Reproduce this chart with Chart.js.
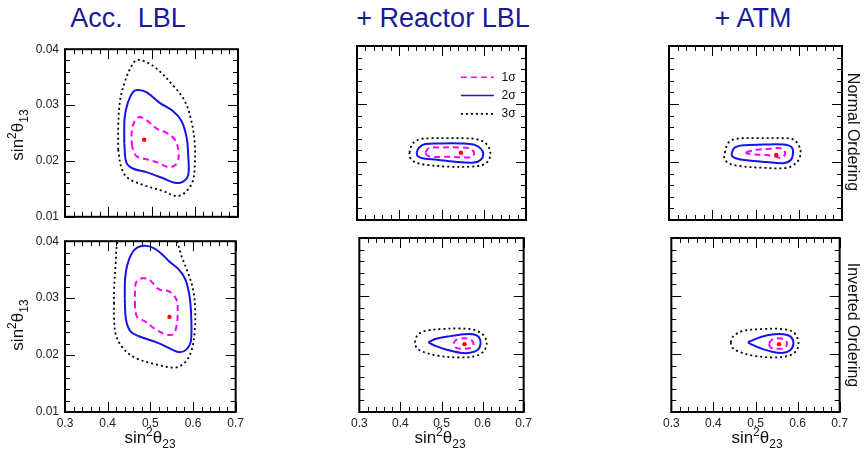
<!DOCTYPE html>
<html lang="en">
<head>
<meta charset="UTF-8">
<title>sin2theta23 - sin2theta13 allowed regions</title>
<style>
  body { margin: 0; background: #fff; font-family: "Liberation Sans", Arial, sans-serif; }
  #wrap { position: relative; width: 864px; height: 455px; overflow: hidden; }
  canvas { position: absolute; }
  .ptitle { position: absolute; top: 3px; font-size: 27px; line-height: 30px; color: #1a1a96; white-space: pre; transform: translateX(-50%); }
  .ytitle { position: absolute; font-size: 17px; line-height: 20px; color: #111; white-space: nowrap; transform: translate(-50%, -50%) rotate(-90deg); }
  .xtitle { position: absolute; top: 428px; font-size: 17px; line-height: 20px; color: #111; white-space: nowrap; transform: translateX(-50%); }
  .side { position: absolute; font-size: 16px; line-height: 18px; color: #111; white-space: nowrap; transform: translate(-50%, -50%) rotate(90deg); }
  .sup { font-size: 12px; position: relative; top: -7px; }
  .sub { font-size: 12px; position: relative; top: 5px; }
</style>
</head>
<body>
<div id="wrap"></div>

<script src="https://cdn.jsdelivr.net/npm/chart.js"></script>
<script>
  // axes
  const xTicks = [0.3, 0.4, 0.5, 0.6, 0.7];
  const yTicks = [0.01, 0.02, 0.03, 0.04];
  const panelTitles = ['Acc.  LBL', '+ Reactor LBL', '+ ATM'];
  const rowLabels = ['Normal Ordering', 'Inverted Ordering'];
  const legendLabels = ['1σ', '2σ', '3σ'];

  // Acc. LBL, normal ordering
  const accNO_1s = [[0.455,0.0226],[0.454,0.0249],[0.458,0.0266],[0.469,0.0278],[0.485,0.0275],[0.512,0.0258],[0.538,0.0249],[0.554,0.0238],[0.562,0.022],[0.562,0.0203],[0.554,0.0192],[0.538,0.0189],[0.515,0.0197],[0.488,0.0203],[0.465,0.0209],[0.455,0.0226]];
  const accNO_2s = [[0.437,0.0232],[0.438,0.0278],[0.446,0.0306],[0.458,0.0324],[0.469,0.0327],[0.488,0.0323],[0.519,0.0304],[0.55,0.0289],[0.569,0.0272],[0.581,0.0243],[0.585,0.0209],[0.585,0.0175],[0.573,0.0163],[0.554,0.0161],[0.527,0.0169],[0.488,0.018],[0.458,0.0186],[0.442,0.0197],[0.437,0.0232]];
  const accNO_3s = [[0.423,0.022],[0.423,0.026],[0.427,0.0307],[0.438,0.0341],[0.454,0.037],[0.468,0.0381],[0.504,0.037],[0.55,0.0335],[0.577,0.0307],[0.592,0.0272],[0.6,0.0232],[0.6,0.0192],[0.595,0.0163],[0.577,0.0143],[0.558,0.0137],[0.527,0.0146],[0.481,0.0157],[0.446,0.0169],[0.431,0.0186],[0.423,0.022]];
  const accNO_best = [[0.483,0.0238]];

  // Acc. LBL, inverted ordering
  const accIO_1s = [[0.464,0.0285],[0.464,0.0308],[0.467,0.0328],[0.481,0.0335],[0.5,0.0331],[0.519,0.0316],[0.546,0.0311],[0.562,0.0296],[0.564,0.0276],[0.562,0.0253],[0.554,0.0237],[0.538,0.0236],[0.515,0.0244],[0.488,0.0259],[0.469,0.0267],[0.464,0.0285]];
  const accIO_2s = [[0.44,0.03],[0.441,0.0335],[0.446,0.0358],[0.456,0.0378],[0.47,0.0389],[0.488,0.0392],[0.508,0.0388],[0.526,0.0378],[0.545,0.0364],[0.566,0.0351],[0.582,0.0333],[0.592,0.0303],[0.596,0.0264],[0.595,0.0224],[0.585,0.021],[0.569,0.0205],[0.55,0.021],[0.519,0.0221],[0.473,0.0233],[0.454,0.0241],[0.443,0.0262],[0.44,0.03]];
  const accIO_3s = [[0.415,0.029],[0.415,0.0316],[0.419,0.0363],[0.423,0.04],[0.44,0.0435],[0.5,0.0445],[0.54,0.043],[0.562,0.04],[0.573,0.0374],[0.588,0.0345],[0.6,0.0316],[0.605,0.0282],[0.604,0.0241],[0.596,0.0207],[0.581,0.0187],[0.558,0.0178],[0.512,0.0184],[0.465,0.0195],[0.435,0.0213],[0.419,0.0236],[0.415,0.0264],[0.415,0.029]];
  const accIO_best = [[0.545,0.0267]];

  // + Reactor LBL
  const rctNO_1s = [[0.462,0.0216],[0.47,0.0224],[0.498,0.0225],[0.546,0.0225],[0.569,0.0223],[0.577,0.0216],[0.573,0.0209],[0.553,0.0208],[0.514,0.0209],[0.474,0.0209],[0.465,0.0212],[0.462,0.0216]];
  const rctNO_2s = [[0.441,0.0216],[0.447,0.0225],[0.462,0.0231],[0.498,0.0232],[0.546,0.0232],[0.577,0.023],[0.593,0.0223],[0.599,0.0214],[0.593,0.0204],[0.577,0.0199],[0.538,0.02],[0.49,0.0204],[0.458,0.0206],[0.444,0.021],[0.441,0.0216]];
  const rctNO_3s = [[0.424,0.0216],[0.431,0.0231],[0.447,0.0239],[0.474,0.0241],[0.514,0.0241],[0.553,0.0241],[0.585,0.0239],[0.605,0.0232],[0.615,0.0219],[0.613,0.0205],[0.601,0.0196],[0.569,0.0192],[0.514,0.0192],[0.466,0.0195],[0.439,0.0199],[0.427,0.0206],[0.424,0.0216]];
  const rctNO_best = [[0.546,0.0216]];

  const rctIO_1s = [[0.529,0.0218],[0.535,0.0224],[0.554,0.0227],[0.571,0.0225],[0.578,0.0218],[0.573,0.0211],[0.554,0.0209],[0.535,0.0211],[0.529,0.0218]];
  const rctIO_2s = [[0.468,0.022],[0.485,0.0226],[0.515,0.023],[0.554,0.0234],[0.577,0.0234],[0.591,0.0229],[0.595,0.0217],[0.588,0.0207],[0.569,0.0202],[0.546,0.0202],[0.515,0.0207],[0.485,0.0214],[0.468,0.022]];
  const rctIO_3s = [[0.435,0.022],[0.442,0.0233],[0.462,0.024],[0.5,0.0243],[0.546,0.0244],[0.577,0.0242],[0.6,0.0234],[0.61,0.022],[0.604,0.0206],[0.585,0.0197],[0.546,0.0194],[0.492,0.0197],[0.458,0.0203],[0.44,0.021],[0.435,0.022]];
  const rctIO_best = [[0.556,0.0217]];

  // + ATM
  const atmNO_1s = [[0.478,0.0217],[0.502,0.0221],[0.533,0.0223],[0.552,0.0224],[0.565,0.0222],[0.568,0.0213],[0.56,0.0207],[0.548,0.0209],[0.525,0.0212],[0.498,0.0213],[0.479,0.0215],[0.478,0.0217]];
  const atmNO_2s = [[0.445,0.0216],[0.452,0.0225],[0.472,0.0229],[0.518,0.023],[0.564,0.023],[0.583,0.0226],[0.587,0.0216],[0.581,0.0203],[0.564,0.0198],[0.525,0.02],[0.479,0.0203],[0.456,0.0206],[0.446,0.021],[0.445,0.0216]];
  const atmNO_3s = [[0.429,0.0216],[0.437,0.0233],[0.456,0.024],[0.502,0.0241],[0.556,0.0241],[0.587,0.0239],[0.601,0.0227],[0.604,0.0213],[0.595,0.0199],[0.572,0.019],[0.518,0.019],[0.464,0.0193],[0.437,0.0198],[0.428,0.0207],[0.429,0.0216]];
  const atmNO_best = [[0.548,0.0212]];

  const atmIO_1s = [[0.532,0.0218],[0.538,0.0224],[0.555,0.0227],[0.571,0.0224],[0.575,0.0217],[0.568,0.021],[0.553,0.0209],[0.536,0.0211],[0.532,0.0218]];
  const atmIO_2s = [[0.482,0.022],[0.504,0.0227],[0.535,0.0233],[0.566,0.0234],[0.585,0.0229],[0.59,0.0217],[0.583,0.0207],[0.566,0.0202],[0.539,0.0204],[0.512,0.021],[0.489,0.0217],[0.482,0.022]];
  const atmIO_3s = [[0.441,0.022],[0.448,0.0231],[0.472,0.024],[0.518,0.0243],[0.564,0.0243],[0.591,0.0237],[0.602,0.022],[0.597,0.0206],[0.579,0.0197],[0.541,0.0194],[0.495,0.0197],[0.464,0.0203],[0.445,0.0211],[0.441,0.022]];
  const atmIO_best = [[0.556,0.0217]];

  const panels = [
    { row: 0, col: 0, s1: accNO_1s, s2: accNO_2s, s3: accNO_3s, best: accNO_best },
    { row: 0, col: 1, s1: rctNO_1s, s2: rctNO_2s, s3: rctNO_3s, best: rctNO_best, legend: true },
    { row: 0, col: 2, s1: atmNO_1s, s2: atmNO_2s, s3: atmNO_3s, best: atmNO_best },
    { row: 1, col: 0, s1: accIO_1s, s2: accIO_2s, s3: accIO_3s, best: accIO_best },
    { row: 1, col: 1, s1: rctIO_1s, s2: rctIO_2s, s3: rctIO_3s, best: rctIO_best },
    { row: 1, col: 2, s1: atmIO_1s, s2: atmIO_2s, s3: atmIO_3s, best: atmIO_best }
  ];

  // layout (page pixels)
  const colBox = [[65, 238], [357, 526], [669, 842]];
  const rowBox = [[46, 220], [238, 412]];
  const PAD = 10;
  const COLORS = { s1: '#ff00ff', s2: '#1414e6', s3: '#000000', best: '#ff0000' };
  const STYLE = {
    s1: { borderDash: [6, 4], borderWidth: 2 },
    s2: { borderDash: [], borderWidth: 2 },
    s3: { borderDash: [2, 3], borderWidth: 1.8 }
  };

  const wrap = document.getElementById('wrap');
  const toXY = arr => arr.map(p => ({ x: p[0], y: p[1] }));

  // frame with inward ticks on all four sides (ROOT style)
  const frameTicks = {
    id: 'frameTicks',
    afterDatasetsDraw(chart) {
      const { ctx, chartArea: a, scales: { x, y } } = chart;
      ctx.save();
      ctx.strokeStyle = '#000';
      ctx.lineWidth = 1;
      ctx.beginPath();
      const xStep = (xTicks[1] - xTicks[0]) / 5;
      const nx = Math.round((xTicks[xTicks.length - 1] - xTicks[0]) / xStep);
      for (let i = 0; i <= nx; i++) {
        const px = Math.round(x.getPixelForValue(xTicks[0] + i * xStep)) + 0.5;
        const len = i % 5 === 0 ? 10 : 5;
        ctx.moveTo(px, a.bottom); ctx.lineTo(px, a.bottom - len);
        ctx.moveTo(px, a.top); ctx.lineTo(px, a.top + len);
      }
      const yStep = (yTicks[1] - yTicks[0]) / 5;
      const ny = Math.round((yTicks[yTicks.length - 1] - yTicks[0]) / yStep);
      for (let i = 0; i <= ny; i++) {
        const py = Math.round(y.getPixelForValue(yTicks[0] + i * yStep)) + 0.5;
        const len = i % 5 === 0 ? 10 : 5;
        ctx.moveTo(a.left, py); ctx.lineTo(a.left + len, py);
        ctx.moveTo(a.right, py); ctx.lineTo(a.right - len, py);
      }
      ctx.stroke();
      ctx.lineWidth = 2;
      ctx.strokeRect(a.left, a.top, a.right - a.left, a.bottom - a.top);
      ctx.restore();
    }
  };

  // legend drawn inside the plot of the "+ Reactor LBL" NO panel
  const sigmaLegend = {
    id: 'sigmaLegend',
    afterDraw(chart) {
      if (!chart.options.plugins.sigmaLegend.show) return;
      const { ctx, chartArea: a } = chart;
      const w = a.right - a.left, h = a.bottom - a.top;
      const keys = ['s1', 's2', 's3'];
      ctx.save();
      ctx.font = '12px "Liberation Sans", Arial, sans-serif';
      ctx.textBaseline = 'middle';
      ctx.fillStyle = '#111';
      keys.forEach((k, i) => {
        const yy = a.top + h * (0.18 + i * 0.105);
        ctx.strokeStyle = COLORS[k];
        ctx.lineWidth = k === 's3' ? 1.8 : 1.5;
        ctx.setLineDash(STYLE[k].borderDash);
        ctx.beginPath();
        ctx.moveTo(a.left + w * 0.615, yy);
        ctx.lineTo(a.left + w * 0.81, yy);
        ctx.stroke();
        ctx.setLineDash([]);
        ctx.fillText(legendLabels[i], a.left + w * 0.855, yy);
      });
      ctx.restore();
    }
  };

  panels.forEach(p => {
    const [L, R] = colBox[p.col];
    const [T, B] = rowBox[p.row];
    const showY = p.col === 0;
    const showX = p.row === 1;
    const yWidth = showY ? L : 0;
    const xHeight = showX ? 22 : PAD;
    const cLeft = showY ? 0 : L - PAD;
    const cTop = T - PAD;
    const cW = R + PAD - cLeft;
    const cH = B + xHeight - cTop;

    const cv = document.createElement('canvas');
    cv.width = cW; cv.height = cH;
    cv.style.left = cLeft + 'px';
    cv.style.top = cTop + 'px';
    cv.style.width = cW + 'px';
    cv.style.height = cH + 'px';
    wrap.appendChild(cv);

    const line = k => ({
      data: toXY(p[k]),
      showLine: true,
      fill: false,
      borderColor: COLORS[k],
      borderWidth: STYLE[k].borderWidth,
      borderDash: STYLE[k].borderDash,
      pointRadius: 0,
      tension: 0.35,
      clip: 0
    });

    new Chart(cv, {
      type: 'scatter',
      data: {
        datasets: [
          { data: toXY(p.best), pointRadius: 2.2, pointBackgroundColor: COLORS.best, pointBorderWidth: 0, showLine: false },
          line('s1'),
          line('s2'),
          line('s3')
        ]
      },
      options: {
        responsive: false,
        animation: false,
        devicePixelRatio: 1,
        events: [],
        layout: { padding: { top: PAD, right: PAD, bottom: 0, left: showY ? 0 : PAD } },
        plugins: { legend: { display: false }, tooltip: { enabled: false }, sigmaLegend: { show: !!p.legend } },
        scales: {
          x: {
            type: 'linear',
            min: xTicks[0], max: xTicks[xTicks.length - 1],
            grid: { display: false, drawTicks: false },
            border: { display: false },
            ticks: {
              display: showX, stepSize: xTicks[1] - xTicks[0], autoSkip: false, maxRotation: 0, padding: 4,
              color: '#222', font: { family: '"Liberation Sans", Arial, sans-serif', size: 12 },
              callback: v => v.toFixed(1)
            },
            afterFit: s => { s.height = xHeight; }
          },
          y: {
            type: 'linear',
            min: yTicks[0], max: yTicks[yTicks.length - 1],
            grid: { display: false, drawTicks: false },
            border: { display: false },
            ticks: {
              display: showY, stepSize: yTicks[1] - yTicks[0], autoSkip: false, padding: 6,
              color: '#222', font: { family: '"Liberation Sans", Arial, sans-serif', size: 12 },
              callback: v => v.toFixed(2)
            },
            afterFit: s => { s.width = yWidth; }
          }
        }
      },
      plugins: [frameTicks, sigmaLegend]
    });
  });

  // text around the grid
  const titleX = [128, 443, 753];
  panelTitles.forEach((t, i) => {
    const d = document.createElement('div');
    d.className = 'ptitle';
    d.style.left = titleX[i] + 'px';
    d.textContent = t;
    wrap.appendChild(d);
  });

  const yTitleY = [135, 325];
  yTitleY.forEach(yy => {
    const d = document.createElement('div');
    d.className = 'ytitle';
    d.style.left = '18px';
    d.style.top = yy + 'px';
    d.innerHTML = 'sin<span class="sup">2</span>θ<span class="sub">13</span>';
    wrap.appendChild(d);
  });

  const xTitleX = [150, 440, 757];
  xTitleX.forEach(xx => {
    const d = document.createElement('div');
    d.className = 'xtitle';
    d.style.left = xx + 'px';
    d.innerHTML = 'sin<span class="sup">2</span>θ<span class="sub">23</span>';
    wrap.appendChild(d);
  });

  const sideY = [132, 325];
  rowLabels.forEach((t, i) => {
    const d = document.createElement('div');
    d.className = 'side';
    d.style.left = '853px';
    d.style.top = sideY[i] + 'px';
    d.textContent = t;
    wrap.appendChild(d);
  });
</script>
</body>
</html>
